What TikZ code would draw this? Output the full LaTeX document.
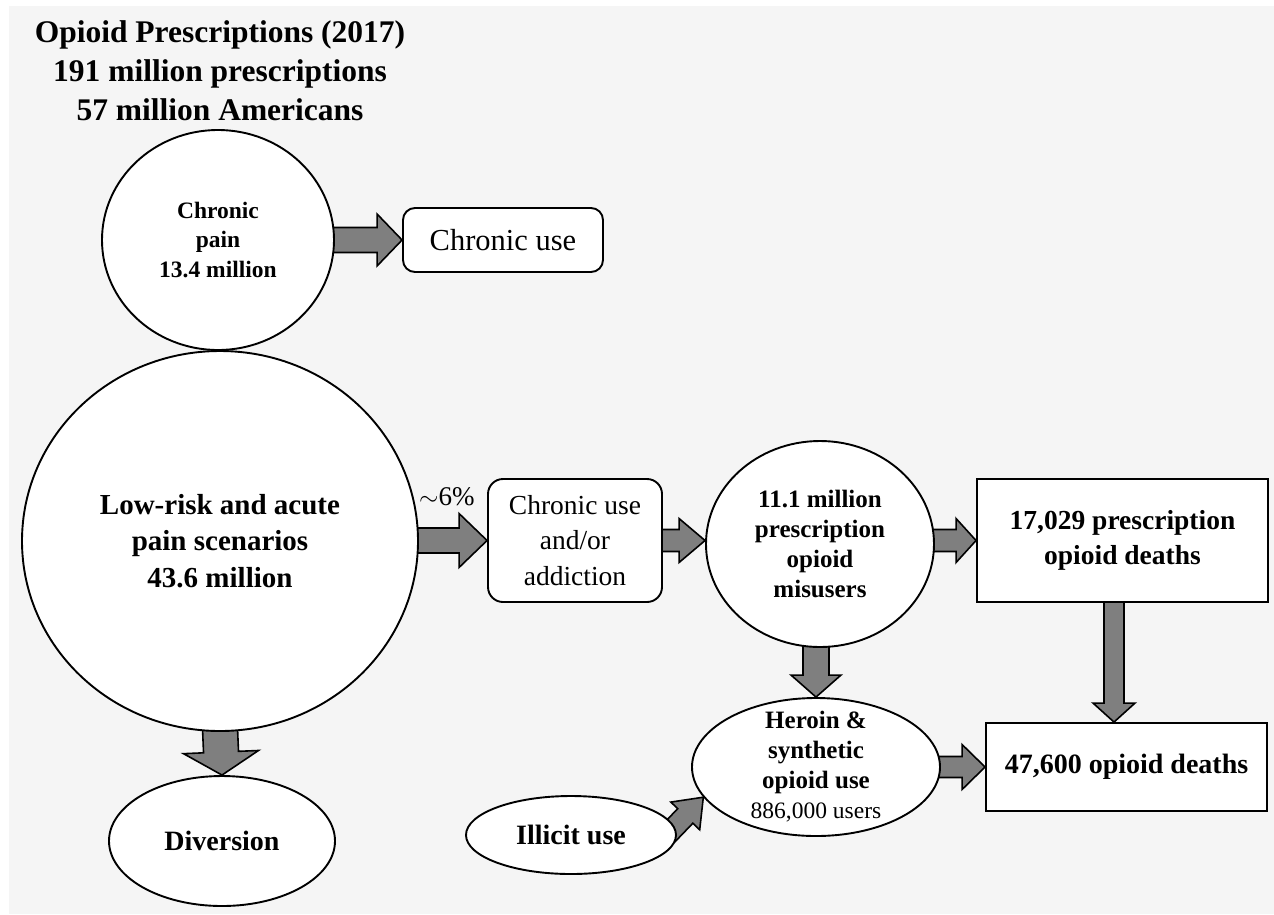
\documentclass[tikz,border=0pt]{standalone}
\usepackage{fontspec}
\setmainfont{Liberation Serif}
\usetikzlibrary{calc,shapes.geometric}
\pgfdeclarelayer{bgl}
\pgfdeclarelayer{arl}
\pgfsetlayers{bgl,arl,main}
\definecolor{bgc}{HTML}{F5F5F5}
\definecolor{arc}{HTML}{7F7F7F}
\newcommand{\fs}[2]{\fontsize{#1}{#2}\selectfont}
\newcommand{\blockarrow}[5]{%
  \coordinate (bas) at #1;
  \coordinate (bae) at #2;
  \coordinate (bah) at ($(bae)!#5!(bas)$);
  \draw[blockar] ($(bas)!#3!90:(bae)$) -- ($(bah)!#3!-90:(bas)$) -- ($(bah)!#4!-90:(bas)$) -- (bae)
     -- ($(bah)!#4!90:(bas)$) -- ($(bah)!#3!90:(bas)$) -- ($(bas)!#3!-90:(bae)$) -- cycle;
}
\begin{document}
\begin{tikzpicture}[x=1pt,y=-1pt,
  shp/.style={draw=black, line width=1.9pt, fill=white, inner sep=0pt, align=center},
  ell/.style={shp, ellipse},
  rbox/.style={shp, rectangle, rounded corners=#1},
  rbox/.default=12pt,
  sbox/.style={shp, rectangle},
  blockar/.style={draw=black, line width=1.6pt, fill=arc, line join=miter}]
\useasboundingbox (0,0) rectangle (1274,914);
\begin{pgfonlayer}{bgl}
  \fill[white] (0,0) rectangle (1274,914);
  \fill[bgc] (9,6) rectangle (1274,914);
\end{pgfonlayer}

\node[font=\bfseries\fs{31.5}{39}, align=center, inner sep=0pt] (title) at (220,71)
  {Opioid Prescriptions (2017)\\191 million prescriptions\\57 million Americans};

\node[ell, minimum width=232pt, minimum height=220pt, font=\bfseries\fs{23.5}{29.5}] (cp) at (218,240)
  {Chronic\\pain\\13.4 million};
\node[rbox=12pt, minimum width=200pt, minimum height=64pt, font=\fs{30.5}{36}] (cu) at (503,240)
  {Chronic use};
\node[ell, minimum width=396pt, minimum height=380pt, font=\bfseries\fs{29}{36.5}] (lr) at (220,541)
  {Low-risk and acute\\pain scenarios\\43.6 million};
\node[ell, minimum width=226pt, minimum height=130pt, font=\bfseries\fs{28}{34}] (dv) at (222,841)
  {Diversion};
\node[rbox=15pt, minimum width=174pt, minimum height=123pt, font=\fs{27.5}{35.5}] (cua) at (575,540.5)
  {Chronic use\\and/or\\addiction};
\node[font=\fs{27}{32}, anchor=base west, inner sep=0pt] (pct) at (419,505) {$\sim$6\%};
\node[ell, minimum width=228pt, minimum height=206pt, font=\bfseries\fs{25}{30}] (mis) at (820,544)
  {11.1 million\\prescription\\opioid\\misusers};
\node[sbox, minimum width=291pt, minimum height=123pt, font=\bfseries\fs{27.5}{35}] (pd) at (1122.5,540.5)
  {17,029 prescription\\opioid deaths};
\node[ell, minimum width=248pt, minimum height=138pt, inner ysep=-14pt, font=\bfseries\fs{25}{30}] (he) at (816,767)
  {Heroin \&\\synthetic\\opioid use\\{\mdseries\fs{23.5}{30}886,000 users}};
\node[ell, minimum width=210pt, minimum height=78pt, font=\bfseries\fs{28}{34}] (il) at (571,835)
  {Illicit use};
\node[sbox, minimum width=281pt, minimum height=88pt, font=\bfseries\fs{28}{34}] (od) at (1126.5,767)
  {47,600 opioid deaths};

\coordinate (pdx) at ($(pd.south)+(-8.5,-3)$);
\begin{pgfonlayer}{arl}
  \blockarrow{($(cp.east |- cu.west)+(-4,0)$)}{(cu.west)}{12.5pt}{26pt}{25pt}
  \blockarrow{($(lr.east |- cua.west)+(-4,0)$)}{(cua.west)}{12.5pt}{27pt}{28pt}
  \blockarrow{($(cua.east)+(-3,0)$)}{(mis.west |- cua.east)}{11pt}{22pt}{26pt}
  \blockarrow{($(mis.east |- pd.west)+(-4,0)$)}{(pd.west)}{11pt}{22pt}{20pt}
  \blockarrow{($(he.north |- mis.south)+(0,-4)$)}{(he.north)}{13pt}{25pt}{22pt}
  \blockarrow{($(lr.south)+(0,-4)$)}{(dv.north)}{17.5pt}{37.5pt}{23pt}
  \blockarrow{(pdx)}{(pdx |- od.north)}{10pt}{21pt}{19pt}
  \blockarrow{($(he.east)+(-5,0)$)}{(od.west)}{10.5pt}{22.5pt}{23pt}
  \blockarrow{($(il.east)+(-10,0)$)}{(he.195)}{10.5pt}{20pt}{26pt}
\end{pgfonlayer}
\end{tikzpicture}
\end{document}
